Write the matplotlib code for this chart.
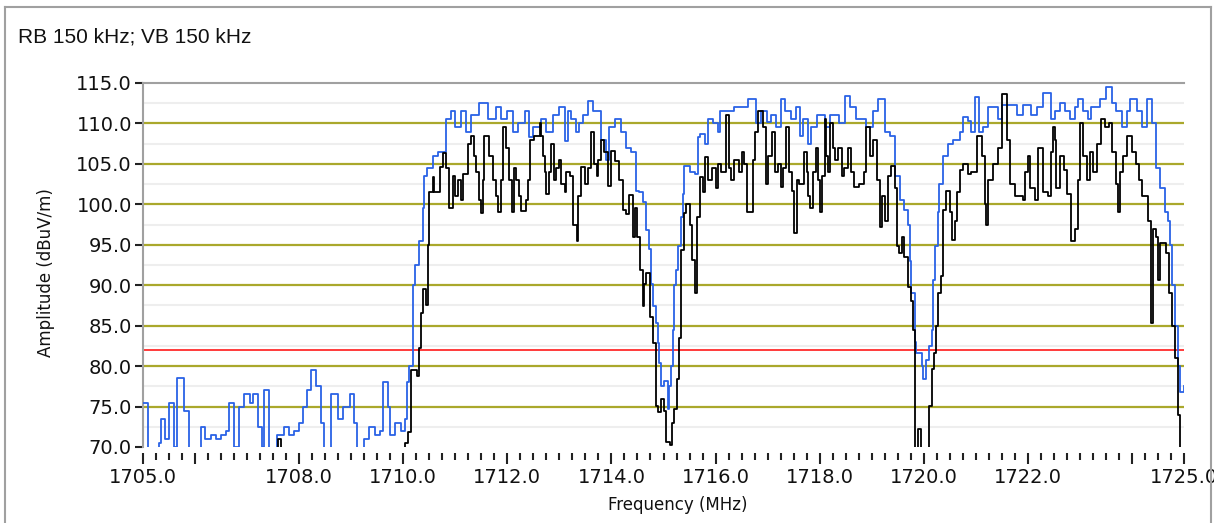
#!/usr/bin/env python3
"""Spectrum sweep 1705-1725 MHz: max-hold (blue) and clear-write (black) traces."""

import matplotlib.pyplot as plt
from matplotlib.lines import Line2D
from matplotlib.ticker import FixedLocator, FixedFormatter, MultipleLocator

# ── Trace data (MHz, dBuV/m) ───────────────────────────────────────
# values below 70 are off-screen (clipped at the bottom of the graph)
max_freq = [
    1705.00, 1705.10, 1705.30, 1705.35, 1705.42, 1705.50, 1705.60, 1705.65, 1705.78, 1705.88,
    1706.12, 1706.20, 1706.30, 1706.40, 1706.50, 1706.60, 1706.65, 1706.75, 1706.85, 1706.95,
    1707.05, 1707.12, 1707.20, 1707.28, 1707.33, 1707.42, 1707.58, 1707.70, 1707.80, 1707.90,
    1708.00, 1708.08, 1708.15, 1708.22, 1708.32, 1708.42, 1708.48, 1708.62, 1708.75, 1708.85,
    1708.98, 1709.05, 1709.12, 1709.25, 1709.35, 1709.45, 1709.55, 1709.62, 1709.70, 1709.75,
    1709.85, 1709.95, 1710.03, 1710.08, 1710.12, 1710.18, 1710.23, 1710.30, 1710.37, 1710.40,
    1710.45, 1710.57, 1710.66, 1710.82, 1710.92, 1711.00, 1711.10, 1711.20, 1711.30, 1711.46,
    1711.62, 1711.78, 1711.88, 1712.00, 1712.10, 1712.20, 1712.33, 1712.42, 1712.50, 1712.65,
    1712.74, 1712.87, 1713.00, 1713.10, 1713.16, 1713.22, 1713.32, 1713.38, 1713.45, 1713.55,
    1713.65, 1713.80, 1713.90, 1713.96, 1714.06, 1714.18, 1714.28, 1714.38, 1714.47, 1714.53,
    1714.60, 1714.67, 1714.73, 1714.76, 1714.80, 1714.86, 1714.90, 1714.92, 1714.96, 1715.00,
    1715.08, 1715.11, 1715.15, 1715.18, 1715.21, 1715.24, 1715.28, 1715.34, 1715.37, 1715.40,
    1715.50, 1715.60, 1715.66, 1715.70, 1715.80, 1715.85, 1715.95, 1716.04, 1716.08, 1716.36,
    1716.62, 1716.78, 1716.88, 1716.98, 1717.07, 1717.17, 1717.26, 1717.33, 1717.45, 1717.55,
    1717.62, 1717.68, 1717.78, 1717.84, 1717.94, 1718.10, 1718.20, 1718.38, 1718.48, 1718.58,
    1718.70, 1718.90, 1719.03, 1719.12, 1719.25, 1719.35, 1719.44, 1719.54, 1719.63, 1719.70,
    1719.73, 1719.76, 1719.83, 1719.86, 1719.96, 1719.99, 1720.05, 1720.10, 1720.15, 1720.18,
    1720.22, 1720.27, 1720.30, 1720.37, 1720.47, 1720.56, 1720.70, 1720.76, 1720.85, 1720.90,
    1720.98, 1721.07, 1721.14, 1721.24, 1721.43, 1721.50, 1721.80, 1721.91, 1722.07, 1722.17,
    1722.29, 1722.45, 1722.52, 1722.62, 1722.71, 1722.81, 1722.90, 1722.97, 1723.06, 1723.16,
    1723.22, 1723.38, 1723.51, 1723.61, 1723.70, 1723.80, 1723.90, 1723.96, 1724.09, 1724.19,
    1724.28, 1724.38, 1724.47, 1724.54, 1724.63, 1724.70, 1724.73, 1724.76, 1724.83, 1724.89,
    1724.92, 1725.00,
]
max_level = [
    75.5, 68.0, 70.5, 73.5, 71.0, 75.5, 70.0, 78.5, 74.5, 68.0,
    72.5, 71.0, 71.5, 71.0, 71.5, 72.0, 75.5, 70.0, 75.0, 76.5,
    75.5, 76.5, 72.5, 70.0, 77.0, 68.0, 71.5, 72.5, 71.5, 72.0,
    73.0, 75.0, 77.0, 79.5, 77.5, 73.0, 69.0, 76.5, 73.5, 75.0,
    76.5, 73.0, 68.0, 71.0, 72.5, 71.5, 72.0, 78.0, 75.0, 71.5,
    73.0, 72.0, 73.5, 78.0, 80.0, 90.0, 92.5, 95.5, 99.5, 103.5,
    104.5, 106.0, 106.5, 110.5, 111.5, 109.5, 111.5, 109.0, 111.0, 112.5,
    110.5, 112.0, 110.5, 111.5, 109.0, 110.0, 111.5, 108.3, 109.5, 110.5,
    109.0, 111.0, 112.0, 107.8, 111.5, 110.5, 109.0, 110.0, 111.0, 112.8,
    111.6, 108.0, 105.5, 109.5, 110.5, 109.0, 107.0, 106.5, 101.7, 101.5,
    100.3, 96.8, 94.5, 90.2, 87.4, 85.3, 82.9, 80.4, 77.5, 78.2,
    74.7, 77.5, 80.0, 84.5, 90.0, 91.9, 94.8, 98.4, 101.3, 104.8,
    104.0, 103.8, 108.3, 108.7, 107.5, 110.5, 110.0, 109.0, 111.5, 112.0,
    113.0, 110.0, 111.5, 110.2, 111.0, 109.5, 113.0, 111.5, 110.5, 112.0,
    108.5, 110.5, 107.5, 109.5, 111.0, 109.5, 111.0, 110.0, 113.4, 112.0,
    110.5, 109.5, 111.5, 113.0, 109.0, 108.5, 103.5, 100.5, 99.3, 97.5,
    93.0, 89.0, 83.0, 81.6, 80.0, 78.4, 80.8, 82.5, 84.5, 90.6,
    94.8, 99.0, 102.5, 106.0, 107.5, 108.0, 109.0, 110.8, 110.3, 109.0,
    113.3, 109.0, 109.5, 112.0, 110.5, 112.3, 111.0, 112.3, 111.0, 112.0,
    113.8, 110.5, 111.5, 112.5, 111.5, 110.5, 112.0, 113.0, 111.5, 110.5,
    112.0, 113.0, 114.5, 112.5, 111.5, 109.5, 111.5, 113.0, 111.5, 109.5,
    113.0, 110.0, 104.5, 102.0, 99.0, 98.0, 95.0, 90.0, 85.0, 80.0,
    76.8, 77.5,
]

clr_freq = [
    1705.00, 1707.60, 1707.66, 1710.03, 1710.10, 1710.15, 1710.26, 1710.30, 1710.34, 1710.37,
    1710.44, 1710.47, 1710.50, 1710.57, 1710.60, 1710.70, 1710.76, 1710.82, 1710.88, 1710.95,
    1711.00, 1711.05, 1711.10, 1711.15, 1711.25, 1711.30, 1711.35, 1711.40, 1711.46, 1711.50,
    1711.53, 1711.56, 1711.65, 1711.72, 1711.78, 1711.82, 1711.88, 1711.91, 1711.98, 1712.04,
    1712.08, 1712.13, 1712.17, 1712.23, 1712.27, 1712.36, 1712.40, 1712.44, 1712.52, 1712.62,
    1712.65, 1712.68, 1712.72, 1712.75, 1712.80, 1712.83, 1712.90, 1712.93, 1713.00, 1713.03,
    1713.10, 1713.13, 1713.20, 1713.26, 1713.33, 1713.36, 1713.42, 1713.50, 1713.55, 1713.60,
    1713.67, 1713.72, 1713.75, 1713.80, 1713.86, 1713.93, 1713.99, 1714.06, 1714.15, 1714.22,
    1714.28, 1714.34, 1714.41, 1714.46, 1714.50, 1714.54, 1714.60, 1714.63, 1714.67, 1714.74,
    1714.79, 1714.85, 1714.90, 1714.95, 1715.00, 1715.05, 1715.13, 1715.17, 1715.21, 1715.25,
    1715.30, 1715.34, 1715.39, 1715.44, 1715.50, 1715.55, 1715.60, 1715.64, 1715.70, 1715.75,
    1715.80, 1715.86, 1715.93, 1716.00, 1716.05, 1716.10, 1716.20, 1716.25, 1716.30, 1716.35,
    1716.45, 1716.50, 1716.55, 1716.60, 1716.72, 1716.76, 1716.82, 1716.91, 1716.96, 1717.00,
    1717.08, 1717.15, 1717.20, 1717.26, 1717.30, 1717.36, 1717.42, 1717.46, 1717.50, 1717.56,
    1717.61, 1717.70, 1717.75, 1717.77, 1717.81, 1717.87, 1717.93, 1717.97, 1718.00, 1718.04,
    1718.10, 1718.13, 1718.16, 1718.20, 1718.26, 1718.30, 1718.35, 1718.42, 1718.47, 1718.55,
    1718.60, 1718.66, 1718.75, 1718.86, 1718.90, 1718.97, 1719.03, 1719.10, 1719.15, 1719.20,
    1719.25, 1719.32, 1719.38, 1719.44, 1719.48, 1719.53, 1719.58, 1719.63, 1719.70, 1719.76,
    1719.80, 1719.83, 1719.89, 1719.95, 1720.05, 1720.10, 1720.15, 1720.20, 1720.24, 1720.28,
    1720.34, 1720.37, 1720.42, 1720.50, 1720.55, 1720.60, 1720.64, 1720.70, 1720.76, 1720.85,
    1720.90, 1721.02, 1721.11, 1721.18, 1721.20, 1721.24, 1721.34, 1721.43, 1721.50, 1721.60,
    1721.66, 1721.75, 1721.90, 1721.95, 1722.01, 1722.04, 1722.14, 1722.20, 1722.30, 1722.39,
    1722.44, 1722.49, 1722.52, 1722.55, 1722.62, 1722.69, 1722.76, 1722.83, 1722.90, 1722.96,
    1723.00, 1723.06, 1723.13, 1723.20, 1723.26, 1723.32, 1723.40, 1723.48, 1723.55, 1723.62,
    1723.70, 1723.74, 1723.78, 1723.83, 1723.90, 1724.00, 1724.07, 1724.13, 1724.20, 1724.30,
    1724.36, 1724.40, 1724.46, 1724.50, 1724.53, 1724.66, 1724.72, 1724.76, 1724.82, 1724.89,
    1724.93, 1725.00,
]
clr_level = [
    68.0, 71.0, 68.0, 70.5, 71.8, 79.5, 78.8, 82.3, 86.6, 89.5,
    87.5, 95.0, 101.5, 103.4, 101.5, 104.6, 106.4, 104.5, 99.5, 103.5,
    101.0, 103.0, 100.5, 103.8, 107.5, 108.5, 106.0, 104.0, 100.5, 98.9,
    103.0, 108.5, 106.0, 103.0, 101.0, 99.0, 103.0, 109.5, 107.0, 103.0,
    99.0, 104.5, 103.0, 101.0, 99.2, 100.5, 103.0, 107.9, 108.5, 110.0,
    108.5, 106.0, 104.0, 101.3, 104.0, 107.5, 103.0, 104.5, 105.5, 102.5,
    101.5, 104.0, 103.5, 97.5, 95.5, 101.0, 104.6, 102.5, 104.5, 108.9,
    105.0, 103.5, 105.5, 108.0, 106.5, 102.3, 106.6, 105.4, 103.0, 99.3,
    98.8, 101.1, 96.0, 99.5, 96.0, 91.9, 87.4, 90.2, 91.5, 86.1,
    82.8, 75.1, 74.3, 75.9, 74.5, 70.6, 70.3, 73.0, 74.7, 78.4,
    83.5, 94.3, 98.9, 100.1, 97.5, 93.1, 89.0, 98.4, 103.4, 101.5,
    105.8, 103.0, 104.5, 102.0, 105.0, 104.0, 111.1, 104.5, 103.0, 105.5,
    104.0, 106.5, 105.0, 99.1, 105.5, 109.0, 111.6, 109.5, 102.5, 106.0,
    109.0, 104.0, 105.0, 102.1, 104.5, 109.5, 104.0, 101.7, 96.4, 103.0,
    102.5, 106.5, 104.0, 101.0, 99.5, 104.0, 107.0, 103.0, 99.0, 103.5,
    110.5, 106.0, 104.0, 110.0, 107.0, 105.5, 107.0, 103.5, 104.5, 107.0,
    104.0, 102.1, 102.5, 104.0, 109.5, 106.0, 108.0, 103.0, 97.2, 101.0,
    98.0, 103.5, 104.8, 102.0, 94.8, 94.0, 96.0, 93.5, 89.8, 88.0,
    84.5, 68.0, 72.2, 68.0, 68.0, 75.1, 79.6, 81.6, 85.0, 89.0,
    91.1, 99.3, 101.7, 99.0, 95.6, 98.0, 101.5, 104.2, 105.0, 103.8,
    104.0, 108.5, 106.0, 100.0, 97.5, 103.0, 105.0, 107.0, 113.6, 108.0,
    102.5, 101.0, 100.5, 104.0, 106.0, 102.0, 100.5, 107.0, 101.5, 101.0,
    106.5, 109.5, 108.0, 102.0, 106.0, 104.2, 101.3, 95.5, 97.0, 103.0,
    110.0, 106.0, 103.0, 106.5, 104.0, 107.5, 110.5, 109.5, 110.0, 106.5,
    102.5, 99.0, 104.0, 106.0, 108.5, 106.5, 105.0, 103.0, 101.0, 98.0,
    85.3, 97.0, 96.0, 90.6, 95.2, 94.0, 89.0, 85.0, 81.0, 74.0,
    68.0, 68.0,
]

LIMIT_LINE = 82.0          # red limit line, dBuV/m
GRID_LEVELS = [75, 80, 85, 90, 95, 100, 105, 110]
MINOR_LEVELS = [72.5, 77.5, 82.5, 87.5, 92.5, 97.5, 102.5, 107.5, 112.5]
X_TICKS = [1705, 1706, 1708, 1710, 1712, 1714, 1716, 1718, 1720, 1722, 1724, 1725]
X_LABELS = ['1705.0', '', '1708.0', '1710.0', '1712.0', '1714.0', '1716.0',
            '1718.0', '1720.0', '1722.0', '', '1725.0']
Y_TICKS = [70, 75, 80, 85, 90, 95, 100, 105, 110, 115]

W, H = 1214, 523


def main():
    fig = plt.figure(figsize=(W / 100, H / 100), dpi=100)
    ax = fig.add_axes([143 / W, 76 / H, 1041 / W, 364 / H])

    # grid: faint half-steps, olive main lines, red limit
    for v in MINOR_LEVELS:
        ax.axhline(v, color='#eeeeee', lw=1.5, zorder=0)
    for v in GRID_LEVELS:
        ax.axhline(v, color='#aaa82c', lw=1.6, zorder=1)
    ax.axhline(LIMIT_LINE, color='#ff2b2b', lw=1.3, zorder=2)

    ax.plot(max_freq, max_level, drawstyle='steps-post', color='#2a62e6', lw=1.3, zorder=3)
    ax.plot(clr_freq, clr_level, drawstyle='steps-post', color='#000000', lw=1.3, zorder=4)

    ax.set_xlim(1705, 1725)
    ax.set_ylim(70, 115)

    ax.xaxis.set_major_locator(FixedLocator(X_TICKS))
    ax.xaxis.set_major_formatter(FixedFormatter(X_LABELS))
    ax.xaxis.set_minor_locator(MultipleLocator(0.25))
    ax.set_yticks(Y_TICKS)
    ax.set_yticklabels([f'{v:.1f}' for v in Y_TICKS])

    for side in ('right',):
        ax.spines[side].set_visible(False)
    ax.spines['bottom'].set_position(('outward', 4))
    ax.spines['bottom'].set_color('none')
    for side in ('left', 'top'):
        ax.spines[side].set_color('#a0a0a0')
        ax.spines[side].set_linewidth(1.5)

    ax.tick_params(axis='y', which='major', length=6, width=1.5, color='#222222',
                   labelsize=14, pad=2, labelcolor='#111111')
    ax.tick_params(axis='x', which='major', length=8, width=1.5, color='#222222',
                   labelsize=14, pad=3, labelcolor='#111111')
    ax.tick_params(axis='x', which='minor', length=5, width=1.5, color='#222222')

    ax.set_xlabel('Frequency (MHz)', fontsize=12, color='#111111')
    ax.xaxis.set_label_coords(0.514, -0.159)
    ax.xaxis.label.set_va('center')
    ax.set_ylabel('Amplitude (dBuV/m)', fontsize=12, color='#111111')
    ax.yaxis.set_label_coords(-0.093, 0.478)
    ax.yaxis.label.set_va('center')

    fig.text(18 / W, 1 - 37 / H, 'RB 150 kHz; VB 150 kHz', fontsize=15,
             family='Liberation Sans', va='center', ha='left', color='#111111')

    # panel frame around the whole graph
    frame = dict(color='#a0a0a0', lw=1.5, transform=fig.transFigure)
    fig.add_artist(Line2D([5 / W, 5 / W], [0, 1 - 7 / H], **frame))
    fig.add_artist(Line2D([5 / W, 1211 / W], [1 - 7 / H, 1 - 7 / H], **frame))
    fig.add_artist(Line2D([1211 / W, 1211 / W], [0, 1 - 7 / H], **frame))

    fig.savefig('out.png', dpi=100)


if __name__ == '__main__':
    main()
